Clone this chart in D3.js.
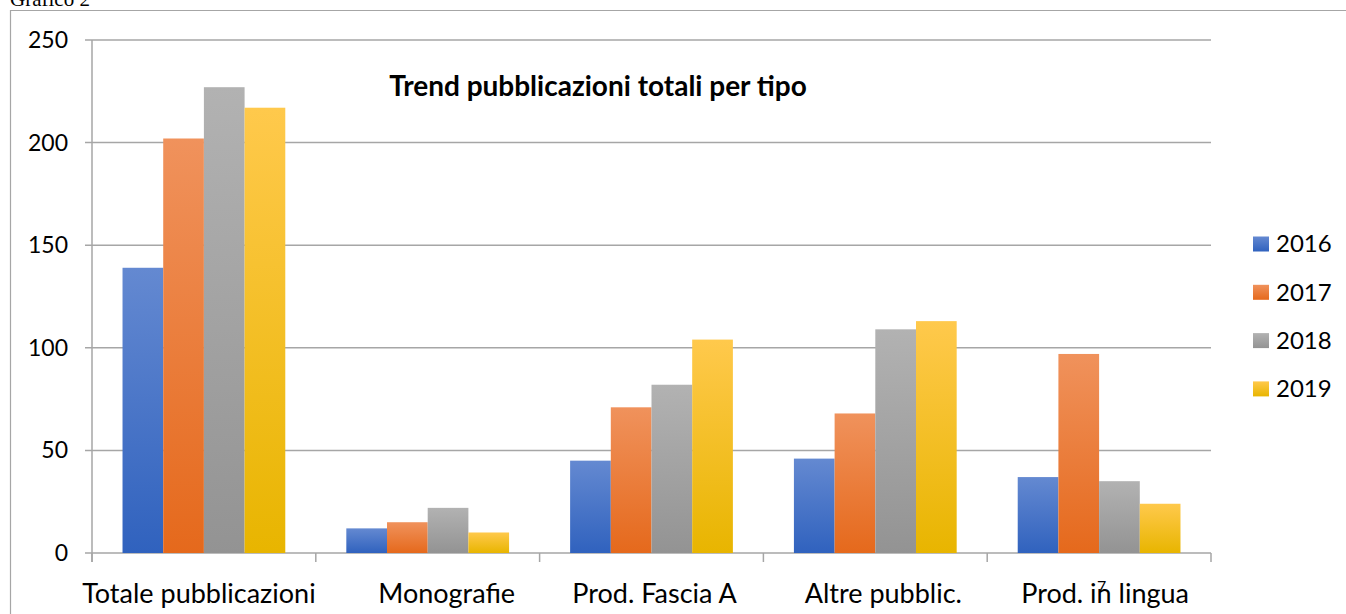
<!DOCTYPE html>
<html>
<head>
<meta charset="utf-8">
<script src="https://cdn.jsdelivr.net/npm/d3@7"></script>
<style>
  body { margin: 0; background: #fff; }
  svg text { font-family: Lato, "Open Sans", sans-serif; fill: #000; }
</style>
</head>
<body>
<div id="chart"></div>
<script>
//
// Grafico 2 - grouped bar chart
//

const categories = ["Totale pubblicazioni", "Monografie", "Prod. Fascia A", "Altre pubblic.", "Prod. in lingua"];
const years = ["2016", "2017", "2018", "2019"];
const values2016 = [139, 12, 45, 46, 37];
const values2017 = [202, 15, 71, 68, 97];
const values2018 = [227, 22, 82, 109, 35];
const values2019 = [217, 10, 104, 113, 24];
const yTicks = [0, 50, 100, 150, 200, 250];

const _width = 1346;
const _height = 614;
const _plotLeft = 92;
const _plotRight = 1211;
const _plotTop = 40;
const _plotBottom = 553;

// the word processor doesn't quite centre the labels under their groups
var _labelShift = [-5, 19, 3, 8, 6];

// top / bottom colour of each series gradient
var _barColors = [
    ['#6489d1', '#3062be'],
    ['#f0925c', '#e5691c'],
    ['#b2b2b2', '#939393'],
    ['#ffc94c', '#e8b500']
];

var series = [values2016, values2017, values2018, values2019];

var svg = d3.select("#chart")
    .append("svg")
    .attr("width", _width)
    .attr("height", _height);

var defs = svg.append("defs");
_barColors.forEach(function (c, i) {
    var g = defs.append("linearGradient")
        .attr("id", "grad" + i)
        .attr("x1", 0).attr("y1", 0).attr("x2", 0).attr("y2", 1);
    g.append("stop").attr("offset", "0%").attr("stop-color", c[0]);
    g.append("stop").attr("offset", "100%").attr("stop-color", c[1]);
});

// page frame and caption
svg.append("path")
    .attr("d", "M10.5," + _height + "V10.5H" + _width)
    .attr("fill", "none")
    .attr("stroke", "#a6a6a6")
    .attr("stroke-width", 1.2);

svg.append("text")
    .attr("x", 10)
    .attr("y", 6)
    .style("font-family", "'Liberation Serif', 'Times New Roman', serif")
    .style("font-size", "21px")
    .text("Grafico 2");

var x = d3.scaleBand()
    .domain(categories)
    .range([_plotLeft, _plotRight]);

var x1 = d3.scaleBand()
    .domain(years)
    .range([0, x.bandwidth()])
    .paddingOuter(0.75);

var y = d3.scaleLinear()
    .domain([0, 250])
    .range([_plotBottom, _plotTop]);

// gridlines
svg.append("g")
    .selectAll("line")
    .data(yTicks)
    .join("line")
    .attr("x1", _plotLeft - 7)
    .attr("x2", _plotRight)
    .attr("y1", d => y(d))
    .attr("y2", d => y(d))
    .attr("stroke", "#a6a6a6")
    .attr("stroke-width", 1.5);

// y axis line
svg.append("line")
    .attr("x1", _plotLeft).attr("x2", _plotLeft)
    .attr("y1", _plotTop).attr("y2", _plotBottom + 9)
    .attr("stroke", "#a6a6a6")
    .attr("stroke-width", 1.5);

// category separators below the axis
var edges = categories.map(d => x(d)).concat([_plotRight]);
svg.append("g")
    .selectAll("line")
    .data(edges)
    .join("line")
    .attr("x1", d => d).attr("x2", d => d)
    .attr("y1", _plotBottom).attr("y2", _plotBottom + 9)
    .attr("stroke", "#a6a6a6")
    .attr("stroke-width", 1.5);

// y labels
svg.append("g")
    .selectAll("text")
    .data(yTicks)
    .join("text")
    .attr("x", 68)
    .attr("y", d => y(d))
    .attr("dy", "0.35em")
    .style("text-anchor", "end")
    .style("font-size", "23px")
    .text(d => d);

// bars
var groups = svg.append("g")
    .selectAll("g")
    .data(categories)
    .join("g")
    .attr("transform", d => "translate(" + x(d) + ",0)");

groups.selectAll("rect")
    .data((d, ci) => years.map((yr, si) => ({ year: yr, si: si, v: series[si][ci] })))
    .join("rect")
    .attr("x", d => x1(d.year))
    .attr("width", x1.bandwidth())
    .attr("y", d => y(d.v))
    .attr("height", d => y(0) - y(d.v))
    .attr("fill", d => "url(#grad" + d.si + ")");

// category labels
svg.append("g")
    .selectAll("text")
    .data(categories)
    .join("text")
    .attr("x", (d, i) => x(d) + x.bandwidth() / 2 + _labelShift[i])
    .attr("y", 603)
    .style("text-anchor", "middle")
    .style("font-size", "27px")
    .text(d => d);

// page number showing through
svg.append("text")
    .attr("x", 1097)
    .attr("y", 592)
    .style("font-size", "16px")
    .text("7");

// title
svg.append("text")
    .attr("x", 598)
    .attr("y", 96)
    .style("text-anchor", "middle")
    .style("font-size", "28px")
    .style("font-weight", "bold")
    .text("Trend pubblicazioni totali per tipo");

// legend
var legend = svg.append("g")
    .selectAll("g")
    .data(years)
    .join("g")
    .attr("transform", (d, i) => "translate(1253," + (244 + i * 48.3) + ")");

legend.append("rect")
    .attr("x", 0)
    .attr("y", -7.5)
    .attr("width", 16)
    .attr("height", 15)
    .attr("fill", (d, i) => "url(#grad" + i + ")");

legend.append("text")
    .attr("x", 23)
    .attr("y", 0)
    .attr("dy", "0.35em")
    .style("font-size", "24px")
    .text(d => d);
</script>
</body>
</html>
